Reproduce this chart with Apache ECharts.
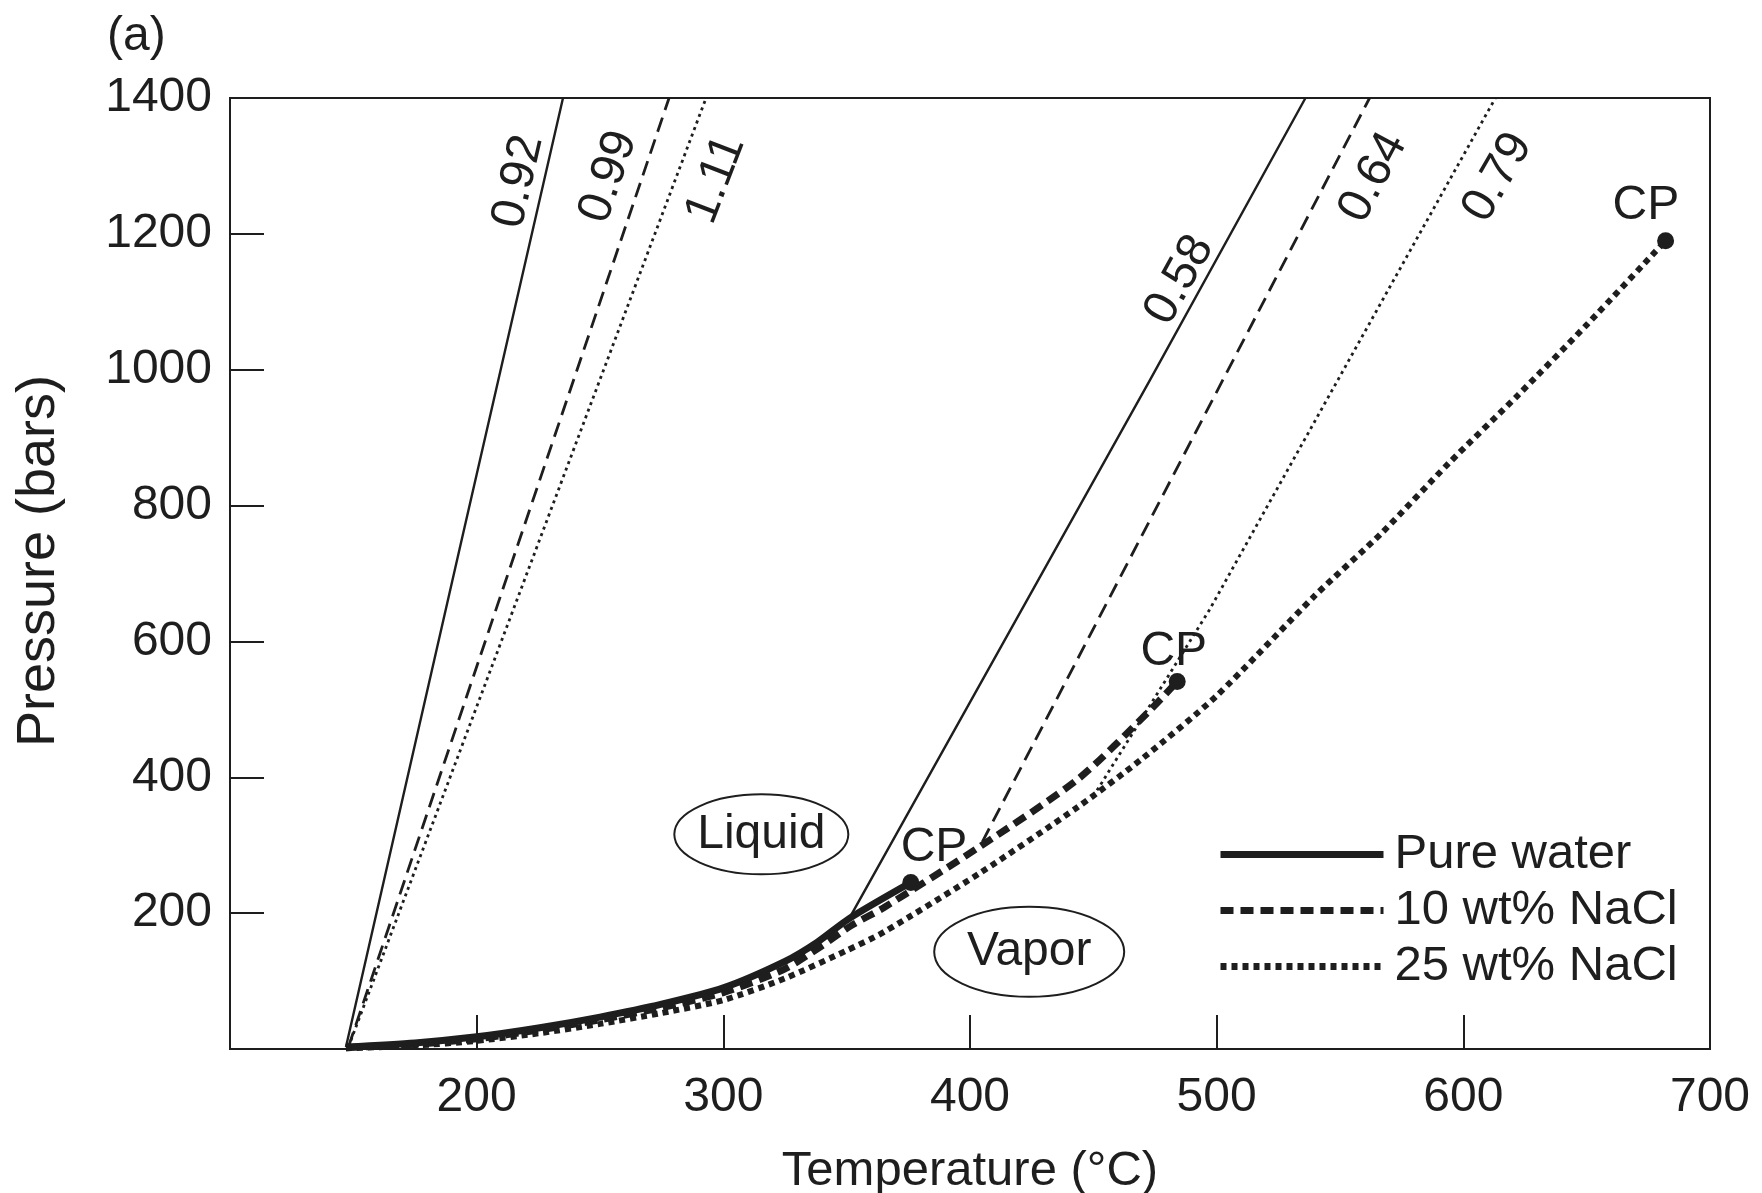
<!DOCTYPE html>
<html>
<head>
<meta charset="utf-8">
<title>P-T diagram, H2O-NaCl</title>
<script src="https://cdn.jsdelivr.net/npm/echarts@6/dist/echarts.min.js"></script>
<style>
  html, body { margin: 0; padding: 0; background: #fff; }
  #chart { width: 1762px; height: 1193px; }
</style>
</head>
<body>
<div id="chart"></div>
<script>
// axis ticks
const tempTicks = [100, 200, 300, 400, 500, 600, 700]
const pressureTicks = [0, 200, 400, 600, 800, 1000, 1200, 1400]

// liquid-vapour curves, [temperature °C, pressure bars]
const pureWater = [[147, 3], [175, 9], [200, 18], [225, 31], [250, 47], [275, 66], [300, 90], [325, 129], [338, 157], [351, 192], [376, 245]]
const nacl10 = [[147, 2], [175, 7], [200, 15], [225, 28], [250, 43], [275, 61], [300, 83], [325, 118], [340, 152], [352, 182], [365, 208], [404, 298], [444, 398], [472, 495], [484, 541]]
const nacl25 = [[147, 1], [175, 5], [200, 12], [225, 23], [250, 37], [275, 53], [300, 72], [325, 104], [350, 145], [365, 172], [404, 259], [444, 357], [470, 428], [500, 520], [540, 668], [567, 760], [594, 862], [622, 962], [650, 1066], [682, 1190]]

// isochores, labelled by density (g/cm3)
const iso092 = [[147, 3], [193, 735], [235, 1400]]
const iso099 = [[148, 3], [216, 735], [278, 1400]]
const iso111 = [[148, 3], [224, 735], [293, 1400]]
const iso058 = [[351, 192], [473, 985], [536, 1400]]
const iso064 = [[405, 305], [473, 779], [562, 1400]]
const iso079 = [[450, 372], [497, 646], [613, 1400]]

const criticalPoints = [pureWater, nacl10, nacl25].map(c => c[c.length - 1])

// text placed on the chart: [T, P, text, angle]
const notes = [
  [217, 1277, '0.92', 77],
  [253.5, 1284, '0.99', 71],
  [297, 1280, '1.11', 69],
  [485, 1132, '0.58', 61],
  [563.5, 1283, '0.64', 62],
  [614, 1283, '0.79', 60],
  [385.4, 296, 'CP', 0],
  [482.6, 585, 'CP', 0],
  [674, 1241, 'CP', 0],
  [315.4, 316, 'Liquid', 0],
  [424, 143, 'Vapor', 0]
]

const ink = '#1e1e1e'
const font = '"Liberation Sans", Arial, Helvetica, sans-serif'

function boiling (name, data, width, type) {
  return {
    name: name,
    type: 'line',
    data: data,
    symbol: 'none',
    smooth: 0.25,
    silent: true,
    z: 4,
    itemStyle: { color: ink, opacity: 1 },
    lineStyle: { color: ink, width: width, type: type, cap: 'butt' }
  }
}

function isochore (name, data, type) {
  return {
    name: name,
    type: 'line',
    data: data,
    symbol: 'none',
    silent: true,
    z: 3,
    lineStyle: { color: ink, width: type === 'solid' ? 2.4 : 2.8, type: type }
  }
}

const chart = echarts.init(document.getElementById('chart'), null, { renderer: 'canvas' })

const option = {
  backgroundColor: '#fff',
  animation: false,
  textStyle: { fontFamily: font, color: ink },
  grid: {
    left: 230,
    right: 52,
    top: 98,
    bottom: 144,
    outerBoundsMode: 'none',
    containLabel: false,
    show: true,
    borderColor: ink,
    borderWidth: 2
  },
  legend: {
    orient: 'vertical',
    left: 1217,
    top: 830,
    padding: 0,
    itemWidth: 163,
    itemHeight: 14,
    itemGap: 7,
    selectedMode: false,
    itemStyle: { opacity: 0 },
    lineStyle: { width: 7, type: 'inherit', cap: 'butt' },
    textStyle: { fontSize: 49, color: ink, fontFamily: font, padding: [0, 0, 0, 6] },
    data: ['Pure water', '10 wt% NaCl', '25 wt% NaCl']
  },
  xAxis: {
    type: 'value',
    min: tempTicks[0],
    max: tempTicks[tempTicks.length - 1],
    interval: 100,
    name: 'Temperature (°C)',
    nameLocation: 'middle',
    nameGap: 98,
    nameTextStyle: { fontSize: 49, color: ink, fontFamily: font },
    axisLine: { show: true, lineStyle: { color: ink, width: 2 } },
    axisTick: { show: true, inside: true, length: 34, lineStyle: { color: ink, width: 2 } },
    axisLabel: {
      showMinLabel: true,
      showMaxLabel: true,
      margin: 25,
      fontSize: 48,
      color: ink,
      fontFamily: font,
      formatter: v => (v === tempTicks[0] ? '' : String(v))
    },
    splitLine: { show: false }
  },
  yAxis: {
    type: 'value',
    min: pressureTicks[0],
    max: pressureTicks[pressureTicks.length - 1],
    interval: 200,
    axisLine: { show: true, lineStyle: { color: ink, width: 2 } },
    axisTick: { show: true, inside: true, length: 34, lineStyle: { color: ink, width: 2 } },
    axisLabel: {
      showMinLabel: true,
      showMaxLabel: true,
      margin: 18,
      fontSize: 48,
      color: ink,
      fontFamily: font,
      formatter: v => (v === pressureTicks[0] ? '' : String(v))
    },
    splitLine: { show: false }
  },
  series: [
    isochore('0.92', iso092, 'solid'),
    isochore('0.99', iso099, [15, 8]),
    isochore('1.11', iso111, [3, 4]),
    isochore('0.58', iso058, 'solid'),
    isochore('0.64', iso064, [15, 8]),
    isochore('0.79', iso079, [3, 4]),
    boiling('Pure water', pureWater, 7, 'solid'),
    boiling('10 wt% NaCl', nacl10, 7, [13, 7]),
    boiling('25 wt% NaCl', nacl25, 6, [6, 5]),
    {
      name: 'CP',
      type: 'scatter',
      data: criticalPoints,
      symbol: 'circle',
      symbolSize: 17,
      silent: true,
      z: 5,
      itemStyle: { color: ink, opacity: 1 }
    },
    {
      name: 'notes',
      type: 'scatter',
      symbolSize: 1,
      silent: true,
      z: 6,
      itemStyle: { color: 'transparent', opacity: 1 },
      data: notes.map(n => ({
        value: [n[0], n[1]],
        label: {
          show: true,
          position: 'inside',
          formatter: n[2],
          rotate: n[3],
          fontSize: 48,
          color: ink,
          opacity: 1,
          fontFamily: font
        }
      }))
    }
  ]
}

chart.setOption(option)

// ellipses round the two field names, plus panel letter and y title
const liquidAt = chart.convertToPixel({ gridIndex: 0 }, [notes[9][0], notes[9][1]])
const vaporAt = chart.convertToPixel({ gridIndex: 0 }, [notes[10][0], notes[10][1]])

chart.setOption({
  graphic: [
    {
      type: 'ellipse',
      shape: { cx: liquidAt[0], cy: liquidAt[1], rx: 87, ry: 40 },
      style: { fill: 'none', stroke: ink, lineWidth: 2 },
      silent: true
    },
    {
      type: 'ellipse',
      shape: { cx: vaporAt[0], cy: vaporAt[1], rx: 95, ry: 45 },
      style: { fill: 'none', stroke: ink, lineWidth: 2 },
      silent: true
    },
    {
      type: 'text',
      x: 107,
      y: 37,
      style: { text: '(a)', font: '48px ' + font, fill: ink, align: 'left', verticalAlign: 'middle' },
      silent: true
    },
    {
      type: 'text',
      x: 39,
      y: 561,
      rotation: Math.PI / 2,
      style: { text: 'Pressure (bars)', font: '54px ' + font, fill: ink, align: 'center', verticalAlign: 'middle' },
      silent: true
    }
  ]
})
</script>
</body>
</html>
